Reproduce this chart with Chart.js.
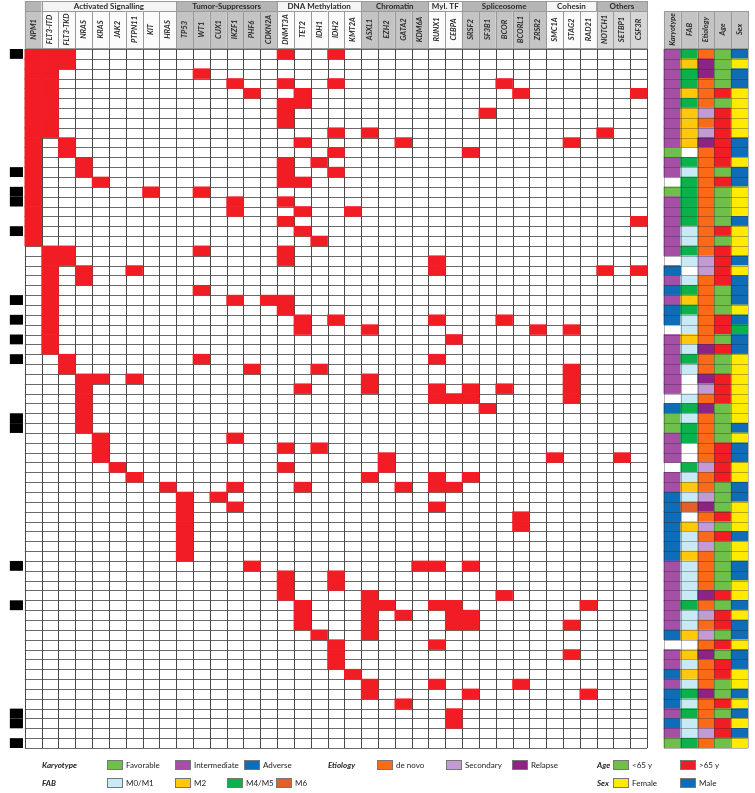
<!DOCTYPE html>
<html>
<head>
<meta charset="utf-8">
<script src="https://cdn.jsdelivr.net/npm/chart.js@4.4.1/dist/chart.umd.min.js"></script>
<style>
  html, body { margin: 0; padding: 0; background: #fff; }
</style>
</head>
<body>
<canvas id="myChart" width="755" height="793"></canvas>
<script>
// gene columns, grouped by function (left to right)
var groupNames = ['', 'Activated Signalling', 'Tumor-Suppressors', 'DNA Methylation', 'Chromatin', 'Myl. TF', 'Spliceosome', 'Cohesin', 'Others'];
var groupGenes = [
  ['NPM1'],
  ['FLT3-ITD', 'FLT3-TKD', 'NRAS', 'KRAS', 'JAK2', 'PTPN11', 'KIT', 'HRAS'],
  ['TP53', 'WT1', 'CUX1', 'IKZF1', 'PHF6', 'CDKN2A'],
  ['DNMT3A', 'TET2', 'IDH1', 'IDH2', 'KMT2A'],
  ['ASXL1', 'EZH2', 'GATA2', 'KDM6A'],
  ['RUNX1', 'CEBPA'],
  ['SRSF2', 'SF3B1', 'BCOR', 'BCORL1', 'ZRSR2'],
  ['SMC1A', 'STAG2', 'RAD21'],
  ['NOTCH1', 'SETBP1', 'CSF3R']
];
var groupShaded = [true, false, true, false, true, false, true, false, true];

// mutated patients (row index, top = 0) for each gene, same order as groupGenes
var npm1Rows = [
  [0, 1, 2, 3, 4, 5, 6, 7, 8, 9, 10, 11, 12, 13, 14, 15, 16, 17, 18, 19]
];
var signallingRows = [
  [0, 1, 2, 3, 4, 5, 6, 7, 8, 20, 21, 22, 23, 24, 25, 26, 27, 28, 29, 30],
  [0, 1, 9, 10, 20, 21, 31, 32],
  [11, 12, 22, 23, 33, 34, 35, 36, 37, 38],
  [13, 33, 39, 40, 41],
  [42],
  [22, 33, 43],
  [14],
  [44]
];
var suppressorRows = [
  [45, 46, 47, 48, 49, 50, 51],
  [2, 14, 20, 24, 31],
  [45],
  [3, 15, 16, 25, 39, 44, 46],
  [4, 32, 52],
  [25]
];
var methylationRows = [
  [0, 3, 5, 6, 7, 11, 12, 13, 15, 17, 20, 21, 25, 26, 40, 42, 53, 54, 55],
  [4, 5, 9, 13, 16, 18, 27, 28, 34, 44, 56, 57, 58],
  [11, 19, 32, 40, 59],
  [0, 3, 8, 10, 12, 27, 53, 54, 60, 61, 62],
  [16, 63]
];
var chromatinRows = [
  [8, 28, 33, 34, 43, 55, 56, 57, 58, 59, 64, 65],
  [41, 42, 56],
  [9, 44, 57, 66],
  [52]
];
var myeloidTfRows = [
  [21, 22, 27, 31, 34, 35, 43, 44, 46, 52, 56, 60, 64],
  [29, 35, 44, 56, 57, 58, 67, 68]
];
var spliceosomeRows = [
  [10, 34, 35, 43, 52, 57, 58, 65],
  [6, 36],
  [3, 27, 34, 55],
  [4, 47, 48, 64],
  [28]
];
var cohesinRows = [
  [41],
  [9, 28, 32, 33, 34, 35, 58, 61],
  [56, 65]
];
var otherRows = [
  [8, 22],
  [41],
  [4, 17, 22]
];
var mutatedRows = [npm1Rows, signallingRows, suppressorRows, methylationRows, chromatinRows,
  myeloidTfRows, spliceosomeRows, cohesinRows, otherRows];

// patients flagged with a black mark on the left
var markedRows = [0, 12, 14, 15, 18, 25, 27, 29, 31, 37, 38, 52, 56, 67, 68, 70];

// clinical annotation per patient (row 0..70)
var annotNames = ['Karyotype', 'FAB', 'Etiology', 'Age', 'Sex'];
var karyotype = ['I','I','I','I','I','I','I','I','I','I', 'F','I','I','','F','I','I','I','I','I',
  'I','','A','I','A','I','A','A','','I', 'I','I','I','I','I','','A','F','F','I',
  'I','I','','I','I','A','A','A','A','A', 'A','A','I','I','I','I','I','I','I','A',
  '','I','I','A','I','A','A','I','A','I', 'F'];
var fab = ['M4/M5','M2','M4/M5','M4/M5','M2','M4/M5','M2','M2','M2','M2',
  '','M4/M5','M0/M1','M4/M5','M4/M5','M4/M5','M4/M5','M4/M5','M0/M1','M0/M1',
  'M4/M5','M0/M1','','M0/M1','M4/M5','M2','M4/M5','M0/M1','M0/M1','M2',
  'M0/M1','M4/M5','M0/M1','','','M0/M1','M4/M5','M0/M1','M4/M5','M4/M5',
  '','','M4/M5','M0/M1','M2','M0/M1','M6','','M2','M0/M1',
  'M0/M1','M2','M0/M1','M0/M1','M0/M1','M0/M1','M4/M5','M0/M1','M0/M1','M2',
  '','M2','M0/M1','M2','M0/M1','M4/M5','M0/M1','M4/M5','M0/M1','M0/M1',
  'M4/M5'];
var etiology = ['D','R','R','D','D','D','S','D','S','R', 'D','D','D','D','D','D','D','D','D','D',
  'D','S','S','D','D','D','D','D','D','D', 'R','D','D','R','S','D','R','D','D','D',
  'D','D','S','D','D','S','R','D','S','D', 'S','D','D','D','D','R','D','S','D','S',
  'D','R','D','D','D','R','D','D','D','S', 'D'];
var age = ['<','<','<','<','>','<','>','>','>','>', '>','>','<','>','<','<','<','<','>','<',
  '>','>','>','>','<','<','<','>','>','<', '>','<','<','>','>','>','<','<','<','<',
  '>','>','>','>','<','<','<','>','<','>', '<','<','<','<','<','>','<','>','>','<',
  '>','<','>','>','<','<','>','<','>','>', '<'];
var sex = ['M','F','M','M','F','F','F','F','F','M', 'M','F','M','M','F','F','F','M','F','F',
  'F','M','F','M','M','M','F','M','?','M', 'M','F','F','F','F','F','F','F','M','F',
  'M','M','F','F','M','M','F','F','F','M', 'F','F','M','M','F','F','M','F','M','M',
  'F','M','M','F','F','M','F','M','F','M', 'F'];

var RED = '#f21d24';
var karyotypeColors = { F: '#6fc04b', I: '#a64fa6', A: '#0f6cb6' };
var fabColors = { 'M0/M1': '#c8eaf5', 'M2': '#ffc80a', 'M4/M5': '#0bb14b', 'M6': '#e2602a' };
var etiologyColors = { D: '#fb6b17', S: '#c39bd3', R: '#8c2385' };
var ageColors = { '<': '#6fc04b', '>': '#f21d24' };
var sexColors = { F: '#ffea00', M: '#0f6cb6', '?': '#0bb14b' };

var nRows = karyotype.length;
var genes = [].concat.apply([], groupGenes);
var geneRows = [].concat.apply([], mutatedRows);
var xLabels = [''].concat(genes, [' '], annotNames);

var mutationCells = [];
genes.forEach(function(g, i) {
  geneRows[i].forEach(function(r) { mutationCells.push({ x: g, y: [r, r + 1] }); });
});

var annotCells = [], annotFill = [];
var annotSets = [[karyotype, karyotypeColors], [fab, fabColors], [etiology, etiologyColors], [age, ageColors], [sex, sexColors]];
annotSets.forEach(function(a, c) {
  a[0].forEach(function(v, r) {
    if (!a[1][v]) return;
    annotCells.push({ x: annotNames[c], y: [r, r + 1] });
    annotFill.push(a[1][v]);
  });
});

var markCells = markedRows.map(function(r) { return { x: '', y: [r, r + 1] }; });

function colEdges(scale, idx) {
  var half = (scale.getPixelForValue(1) - scale.getPixelForValue(0)) / 2;
  var c = scale.getPixelForValue(idx);
  return [c - half, c + half];
}

var gridPlugin = {
  id: 'grid',
  beforeDatasetsDraw: function(chart) {
    var ctx = chart.ctx, xs = chart.scales.x, ys = chart.scales.y;
    var left = colEdges(xs, 1)[0], right = colEdges(xs, genes.length)[1];
    var top = ys.getPixelForValue(0), bottom = ys.getPixelForValue(nRows);
    ctx.save();
    ctx.fillStyle = '#fff';
    ctx.fillRect(left, top, right - left, bottom - top);
    ctx.lineWidth = 1;
    ctx.strokeStyle = '#6a6a6a';
    ctx.beginPath();
    for (var r = 0; r <= nRows; r++) {
      var y = Math.round(ys.getPixelForValue(r)) + 0.5;
      ctx.moveTo(left, y); ctx.lineTo(right, y);
    }
    ctx.stroke();
    ctx.strokeStyle = '#4a4a4a';
    ctx.beginPath();
    for (var i = 1; i <= genes.length + 1; i++) {
      var x = Math.round(colEdges(xs, i)[0]) + 0.5;
      ctx.moveTo(x, top); ctx.lineTo(x, bottom);
    }
    ctx.stroke();
    ctx.restore();
  },
  afterDatasetsDraw: function(chart) {
    var ctx = chart.ctx, xs = chart.scales.x, ys = chart.scales.y;
    var first = genes.length + 2;
    var left = colEdges(xs, first)[0], right = colEdges(xs, first + annotNames.length - 1)[1];
    var top = ys.getPixelForValue(0), bottom = ys.getPixelForValue(nRows);
    ctx.save();
    ctx.lineWidth = 1;
    ctx.strokeStyle = 'rgba(40,40,40,0.35)';
    ctx.beginPath();
    for (var r = 0; r <= nRows; r++) {
      var y = Math.round(ys.getPixelForValue(r)) + 0.5;
      ctx.moveTo(left, y); ctx.lineTo(right, y);
    }
    for (var i = first; i <= first + annotNames.length; i++) {
      var x = Math.round(colEdges(xs, i)[0]) + 0.5;
      ctx.moveTo(x, top); ctx.lineTo(x, bottom);
    }
    ctx.stroke();
    ctx.restore();
  }
};

function vText(ctx, txt, x, y) {
  ctx.save();
  ctx.translate(x, y);
  ctx.rotate(-Math.PI / 2);
  ctx.fillText(txt, 0, 0);
  ctx.restore();
}

var headerPlugin = {
  id: 'headers',
  afterDraw: function(chart) {
    var ctx = chart.ctx, xs = chart.scales.x;
    var bandTop = 1, headTop = 11, headBottom = chart.chartArea.top - 1;
    ctx.save();
    ctx.lineWidth = 1;
    ctx.strokeStyle = '#9a9a9a';
    var idx = 1;
    groupGenes.forEach(function(list, g) {
      var gl = colEdges(xs, idx)[0], gr = colEdges(xs, idx + list.length - 1)[1];
      ctx.fillStyle = groupShaded[g] ? '#b5b5b5' : '#f4f4f4';
      ctx.fillRect(gl, bandTop, gr - gl, headTop - bandTop);
      ctx.strokeRect(Math.round(gl) + 0.5, bandTop + 0.5, Math.round(gr - gl), headTop - bandTop);
      ctx.fillStyle = '#2b2b2b';
      ctx.font = 'bold 8px Lato';
      ctx.textAlign = 'center';
      ctx.textBaseline = 'middle';
      ctx.fillText(groupNames[g], (gl + gr) / 2, (bandTop + headTop) / 2 + 0.5);
      list.forEach(function(name, k) {
        var e = colEdges(xs, idx + k);
        ctx.fillStyle = groupShaded[g] ? (g === 8 ? '#d6d6d6' : '#c4c4c4') : '#fbfbfb';
        ctx.fillRect(e[0], headTop, e[1] - e[0], headBottom - headTop);
        ctx.strokeRect(Math.round(e[0]) + 0.5, headTop + 0.5, Math.round(e[1] - e[0]), headBottom - headTop);
        ctx.fillStyle = '#2b2b2b';
        ctx.font = 'italic bold 7.5px Lato';
        vText(ctx, name, (e[0] + e[1]) / 2, (headTop + headBottom) / 2);
      });
      idx += list.length;
    });
    var first = genes.length + 2;
    annotNames.forEach(function(name, k) {
      var e = colEdges(xs, first + k);
      ctx.fillStyle = '#c4c4c4';
      ctx.fillRect(e[0], headTop, e[1] - e[0], headBottom - headTop);
      ctx.strokeRect(Math.round(e[0]) + 0.5, headTop + 0.5, Math.round(e[1] - e[0]), headBottom - headTop);
      ctx.fillStyle = '#2b2b2b';
      ctx.font = 'italic bold 7.5px Lato';
      vText(ctx, name, (e[0] + e[1]) / 2, (headTop + headBottom) / 2);
    });
    ctx.restore();
  }
};

// legend rows under the grid
var legendRows = [
  { y: 765, items: [
    { title: 'Karyotype', x: 42 },
    { label: 'Favorable', color: karyotypeColors.F, x: 107 },
    { label: 'Intermediate', color: karyotypeColors.I, x: 175 },
    { label: 'Adverse', color: karyotypeColors.A, x: 244 },
    { title: 'Etiology', x: 328 },
    { label: 'de novo', color: etiologyColors.D, x: 377 },
    { label: 'Secondary', color: etiologyColors.S, x: 446 },
    { label: 'Relapse', color: etiologyColors.R, x: 512 },
    { title: 'Age', x: 597 },
    { label: '<65 y', color: ageColors['<'], x: 613 },
    { label: '>65 y', color: ageColors['>'], x: 680 }
  ] },
  { y: 783, items: [
    { title: 'FAB', x: 42 },
    { label: 'M0/M1', color: fabColors['M0/M1'], x: 107 },
    { label: 'M2', color: fabColors['M2'], x: 175 },
    { label: 'M4/M5', color: fabColors['M4/M5'], x: 227 },
    { label: 'M6', color: fabColors['M6'], x: 276 },
    { title: 'Sex', x: 597 },
    { label: 'Female', color: sexColors.F, x: 613 },
    { label: 'Male', color: sexColors.M, x: 680 }
  ] }
];

var legendPlugin = {
  id: 'keyLegend',
  afterDraw: function(chart) {
    var ctx = chart.ctx;
    ctx.save();
    ctx.textBaseline = 'middle';
    ctx.textAlign = 'left';
    legendRows.forEach(function(row) {
      row.items.forEach(function(it) {
        ctx.fillStyle = '#222';
        if (it.title) {
          ctx.font = 'italic bold 8px Lato';
          ctx.fillText(it.title, it.x, row.y);
          return;
        }
        ctx.fillStyle = it.color;
        ctx.fillRect(it.x, row.y - 5, 16, 10);
        ctx.strokeStyle = '#777';
        ctx.lineWidth = 1;
        ctx.strokeRect(it.x + 0.5, row.y - 4.5, 15, 9);
        ctx.fillStyle = '#222';
        ctx.font = '8px Lato';
        ctx.fillText(it.label, it.x + 19, row.y);
      });
    });
    ctx.restore();
  }
};

function renderChart() {
  var ctx = document.getElementById('myChart').getContext('2d');
  var barOpts = { grouped: false, barPercentage: 1, categoryPercentage: 1, borderWidth: 0 };
  new Chart(ctx, {
    type: 'bar',
    data: {
      labels: xLabels,
      datasets: [
        Object.assign({ label: 'Mutated', data: mutationCells, backgroundColor: RED }, barOpts),
        Object.assign({ label: 'Clinical', data: annotCells, backgroundColor: annotFill }, barOpts),
        Object.assign({ label: 'Marked', data: markCells, backgroundColor: '#000' }, barOpts, { barPercentage: 0.78 })
      ]
    },
    options: {
      responsive: false,
      animation: false,
      events: [],
      layout: { padding: { top: 49, bottom: 45, left: 8, right: 7 } },
      plugins: { legend: { display: false }, tooltip: { enabled: false } },
      scales: {
        x: { type: 'category', display: false, offset: true },
        y: { type: 'linear', min: 0, max: nRows, reverse: true, display: false }
      }
    },
    plugins: [gridPlugin, headerPlugin, legendPlugin]
  });
}
document.addEventListener('DOMContentLoaded', renderChart);
</script>
</body>
</html>
